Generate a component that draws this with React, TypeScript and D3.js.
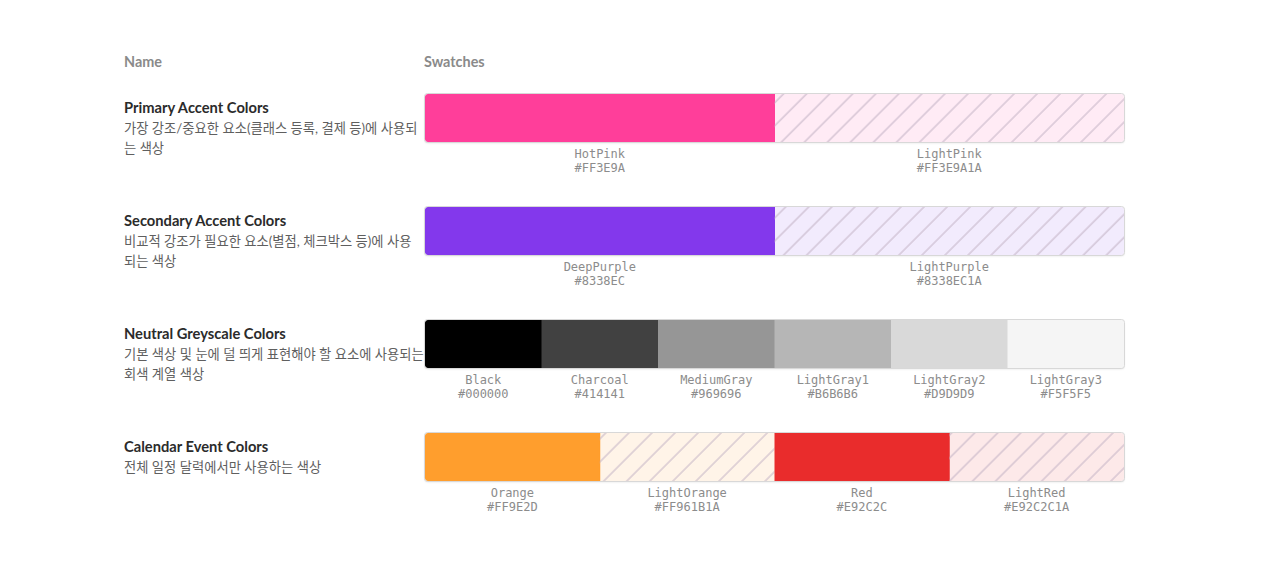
import React from "react";
import * as d3 from "d3";

const headers = ["Name", "Swatches"];
const groupTitles = [
  "Primary Accent Colors",
  "Secondary Accent Colors",
  "Neutral Greyscale Colors",
  "Calendar Event Colors",
];
const groupDescriptions = [
  ["가장 강조/중요한 요소(클래스 등록, 결제 등)에 사용되", "는 색상"],
  ["비교적 강조가 필요한 요소(별점, 체크박스 등)에 사용", "되는 색상"],
  ["기본 색상 및 눈에 덜 띄게 표현해야 할 요소에 사용되는", "회색 계열 색상"],
  ["전체 일정 달력에서만 사용하는 색상"],
];
const swatchNames = [
  ["HotPink", "LightPink"],
  ["DeepPurple", "LightPurple"],
  ["Black", "Charcoal", "MediumGray", "LightGray1", "LightGray2", "LightGray3"],
  ["Orange", "LightOrange", "Red", "LightRed"],
];
const swatchHex = [
  ["#FF3E9A", "#FF3E9A1A"],
  ["#8338EC", "#8338EC1A"],
  ["#000000", "#414141", "#969696", "#B6B6B6", "#D9D9D9", "#F5F5F5"],
  ["#FF9E2D", "#FF961B1A", "#E92C2C", "#E92C2C1A"],
];

const W = 1264;
const H = 585;
const nameX = 124;
const barX0 = 425;
const barX1 = 1124;
const barH = 48;
const rowTop = 94;
const rowStep = 113;

const sansFont = "Lato, 'Noto Sans CJK KR', 'Noto Sans', sans-serif";
const monoFont = "'DejaVu Sans Mono', 'Liberation Mono', monospace";

export default function App() {
  const rowY = d3
    .scaleLinear()
    .domain([0, 1])
    .range([rowTop, rowTop + rowStep]);

  return (
    <svg
      width={W}
      height={H}
      style={{ position: "absolute", left: 0, top: 0, background: "#fff" }}
    >
      <defs>
        <pattern
          id="hatch"
          patternUnits="userSpaceOnUse"
          width={16.3}
          height={16.3}
          patternTransform="rotate(45)"
        >
          <line x1={1} y1={0} x2={1} y2={16.3} stroke="#c2b2c4" strokeWidth={1} />
        </pattern>
        <filter id="shadow" x="-5%" y="-20%" width="110%" height="150%">
          <feDropShadow dx={0} dy={1} stdDeviation={1.2} floodColor="#000" floodOpacity={0.12} />
        </filter>
      </defs>
      <text x={nameX} y={67} fontFamily={sansFont} fontSize={14.4} fontWeight={700} fill="#8a8a8a">
        {headers[0]}
      </text>
      <text x={424} y={67} fontFamily={sansFont} fontSize={14.4} fontWeight={700} fill="#8a8a8a">
        {headers[1]}
      </text>
      {groupTitles.map((title, gi) => {
        const y0 = rowY(gi);
        const names = swatchNames[gi];
        const hexes = swatchHex[gi];
        const x = d3.scaleBand<number>().domain(d3.range(names.length)).range([barX0, barX1]);
        const clipId = `clip-${gi}`;
        return (
          <g key={gi}>
            <text x={nameX} y={y0 + 19} fontFamily={sansFont} fontSize={14.7} fontWeight={700} fill="#2b2b2b">
              {title}
            </text>
            {groupDescriptions[gi].map((line, li) => (
              <text
                key={li}
                x={nameX}
                y={y0 + 38.5 + li * 20}
                fontFamily={sansFont}
                fontSize={13.3}
                fill="#5f5f5f"
              >
                {line}
              </text>
            ))}
            <clipPath id={clipId}>
              <rect x={barX0} y={y0} width={barX1 - barX0} height={barH} rx={3} />
            </clipPath>
            <rect
              x={barX0}
              y={y0}
              width={barX1 - barX0}
              height={barH}
              rx={3}
              fill="#fff"
              filter="url(#shadow)"
            />
            <g clipPath={`url(#${clipId})`}>
              {names.map((n, i) => {
                const isAlpha = hexes[i].length > 7;
                return (
                  <g key={n}>
                    <rect x={x(i)} y={y0} width={x.bandwidth() + 0.5} height={barH} fill={hexes[i]} />
                    {isAlpha && (
                      <rect x={x(i)} y={y0} width={x.bandwidth()} height={barH} fill="url(#hatch)" />
                    )}
                  </g>
                );
              })}
            </g>
            <rect
              x={barX0 - 0.5}
              y={y0 - 0.5}
              width={barX1 - barX0 + 1}
              height={barH + 1}
              rx={3}
              fill="none"
              stroke="#d8d8d8"
              strokeWidth={1}
            />
            {names.map((n, i) => {
              const cx = (x(i) as number) + x.bandwidth() / 2;
              return (
                <g key={`lab-${n}`}>
                  <text x={cx} y={y0 + 64} textAnchor="middle" fontFamily={monoFont} fontSize={12} fill="#8c8c8c">
                    {n}
                  </text>
                  <text x={cx} y={y0 + 78} textAnchor="middle" fontFamily={monoFont} fontSize={12} fill="#8c8c8c">
                    {hexes[i]}
                  </text>
                </g>
              );
            })}
          </g>
        );
      })}
    </svg>
  );
}
